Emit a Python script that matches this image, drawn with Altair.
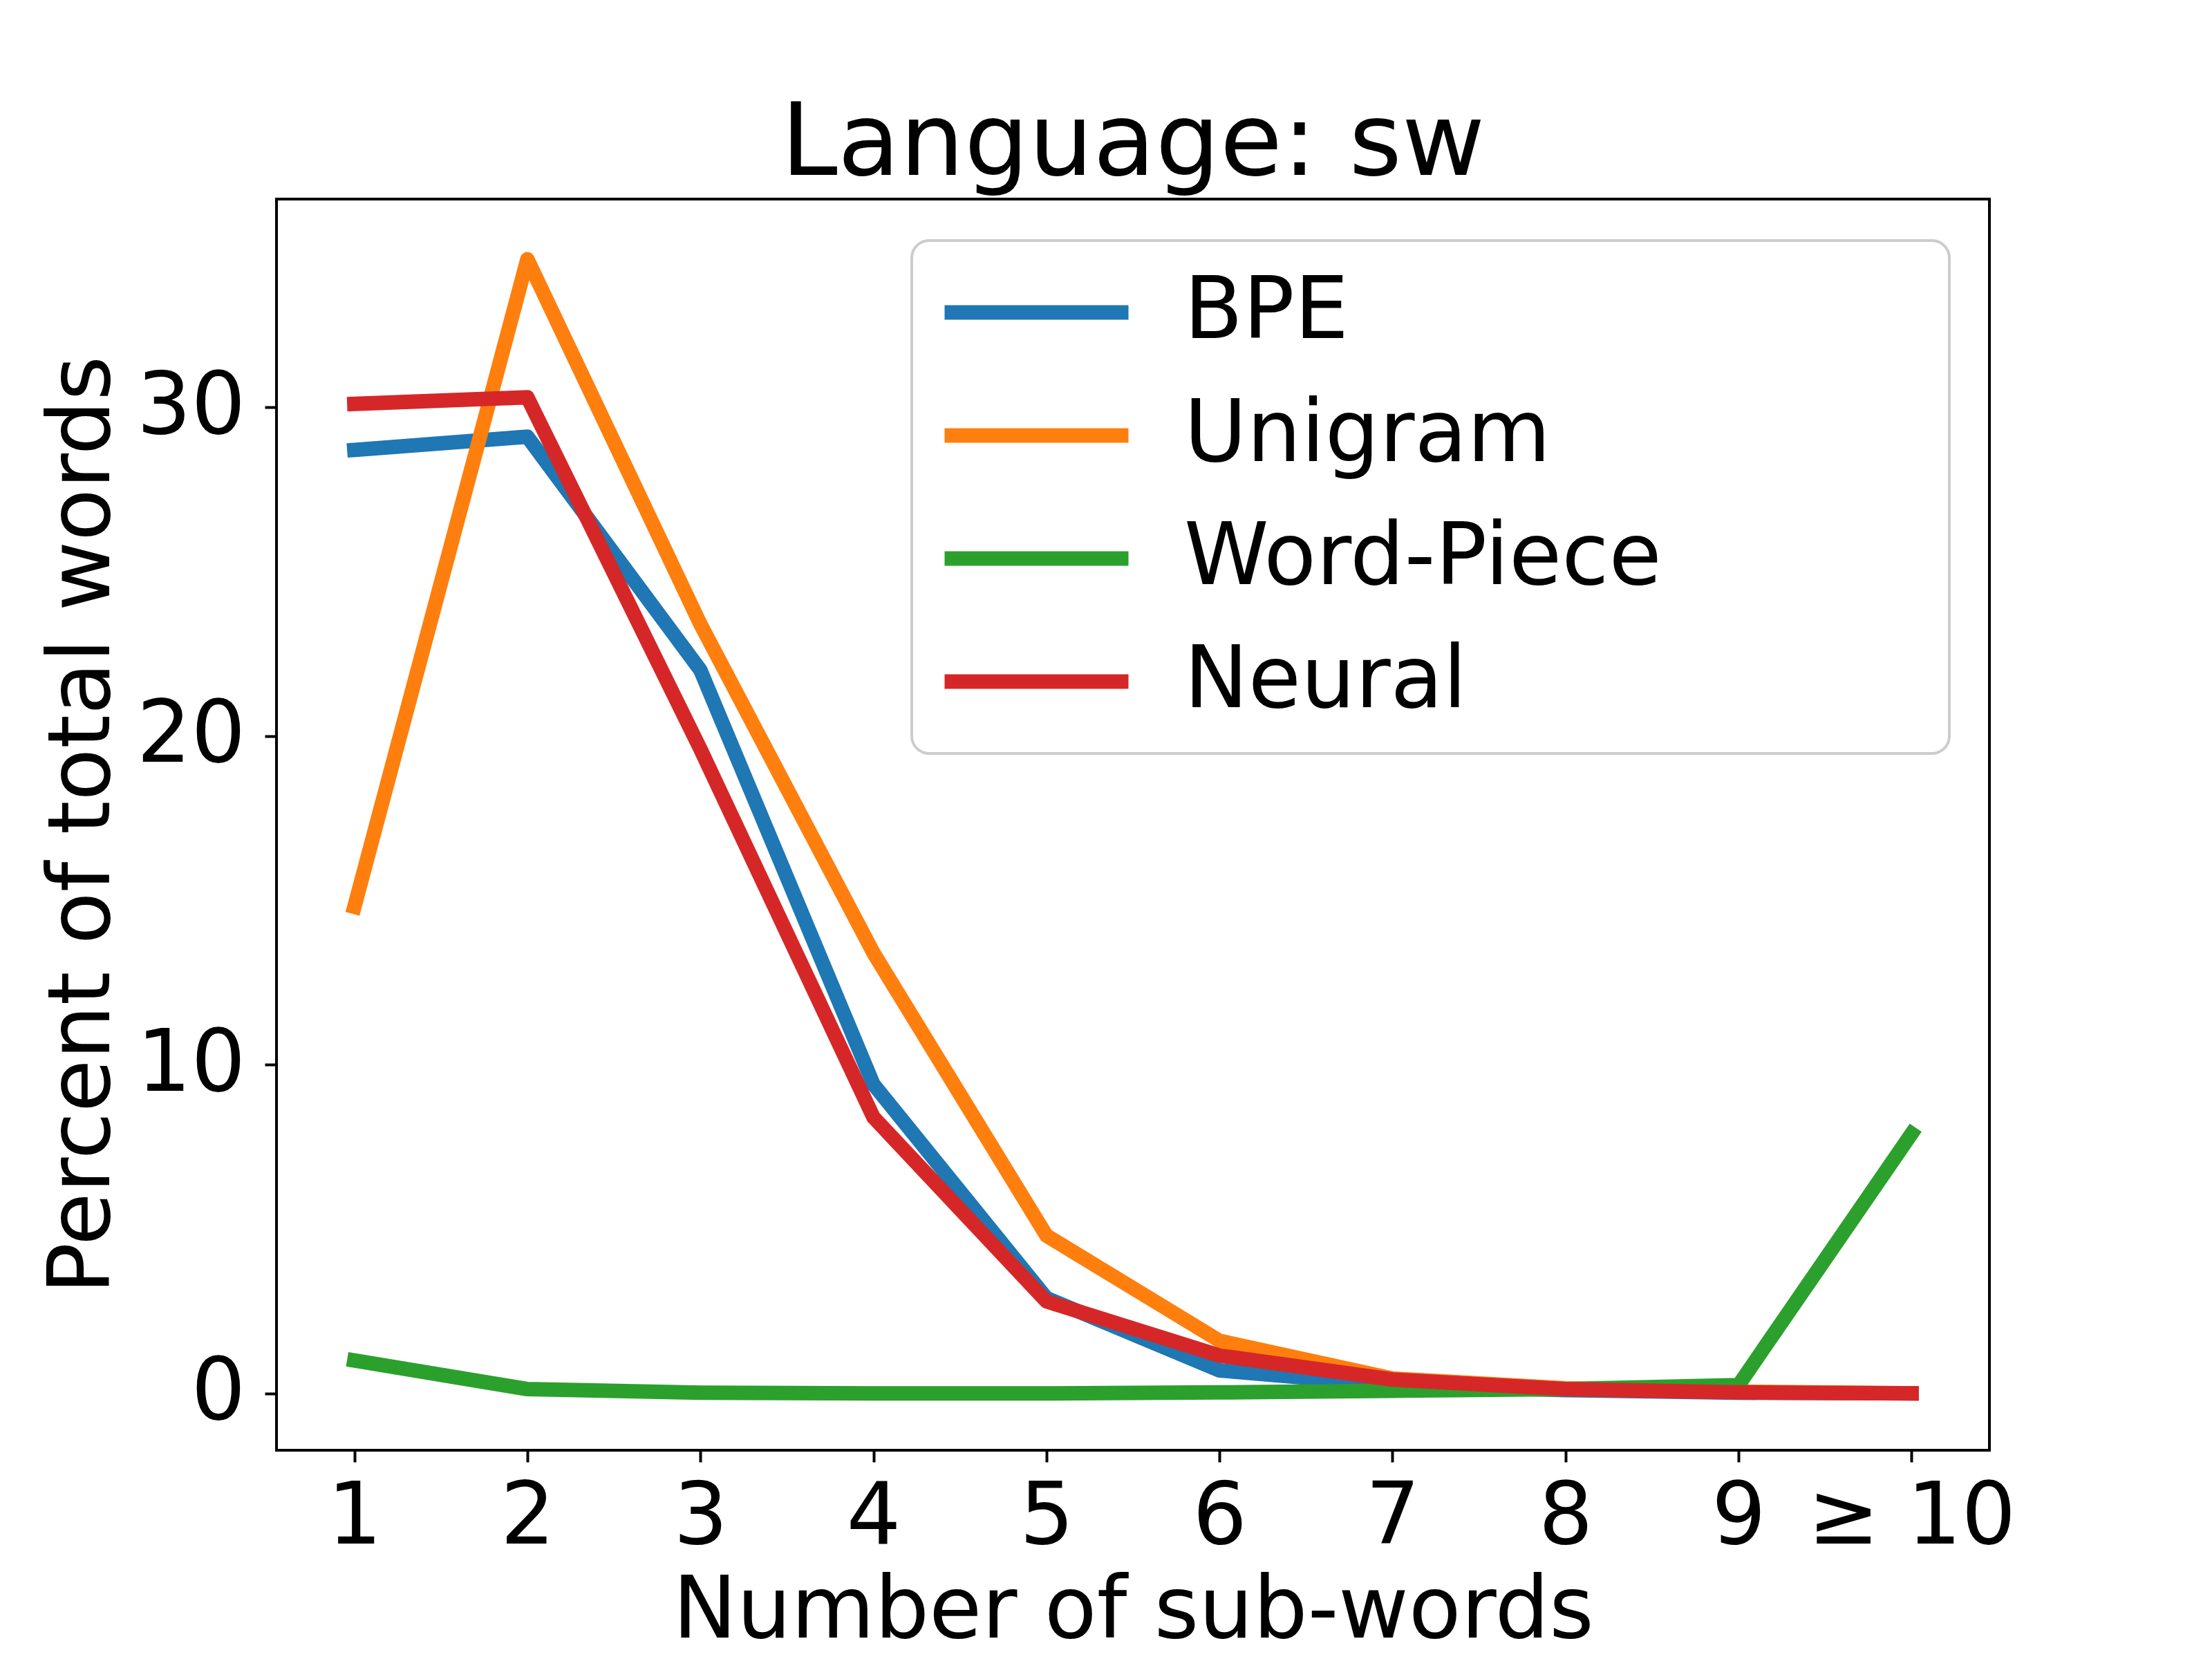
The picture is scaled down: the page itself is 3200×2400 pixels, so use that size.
import altair as alt
import pandas as pd

# ---- data ----
x_labels = ["1", "2", "3", "4", "5", "6", "7", "8", "9", "≥ 10"]
series_names = ["BPE", "Unigram", "Word-Piece", "Neural"]
series_colors = ["#1f77b4", "#ff7f0e", "#2ca02c", "#d62728"]
bpe = [28.7, 29.1, 22.0, 9.4, 2.9, 0.7, 0.25, 0.1, 0.02, 0.0]
unigram = [14.8, 34.5, 23.4, 13.4, 4.8, 1.6, 0.45, 0.15, 0.05, 0.0]
wordpiece = [1.0, 0.13, 0.02, 0.0, 0.0, 0.03, 0.08, 0.13, 0.25, 7.9]
neural = [30.1, 30.3, 19.6, 8.4, 2.8, 1.15, 0.42, 0.13, 0.03, 0.0]
series_values = [bpe, unigram, wordpiece, neural]
y_ticks = [0, 10, 20, 30]
y_domain = [-1.73, 36.33]

rows = []
for name, vals in zip(series_names, series_values):
    for lab, v in zip(x_labels, vals):
        rows.append({"n": lab, "pct": v, "method": name})
df = pd.DataFrame(rows)

FONT = "DejaVu Sans"

chart = (
    alt.Chart(df)
    .mark_line(strokeWidth=21, strokeCap="square", strokeJoin="round")
    .encode(
        x=alt.X(
            "n:O",
            sort=x_labels,
            scale=alt.Scale(type="point", padding=0.45),
            axis=alt.Axis(
                title="Number of sub-words",
                labelAngle=0,
                labelPadding=19,
                labelFlush=False,
                labelOverlap=False,
                titleX=1239,
                titleY=270,
                titleAlign="center",
                titleBaseline="alphabetic",
            ),
        ),
        y=alt.Y(
            "pct:Q",
            scale=alt.Scale(domain=y_domain, nice=False, zero=False),
            axis=alt.Axis(
                title="Percent of total words",
                values=y_ticks,
                labelPadding=28,
                labelFlush=False,
                titleX=-243,
                titleY=905,
                titleAngle=270,
                titleAlign="center",
                titleBaseline="alphabetic",
            ),
        ),
        color=alt.Color(
            "method:N",
            sort=series_names,
            scale=alt.Scale(domain=series_names, range=series_colors),
            legend=alt.Legend(
                title=" ",
                titleOrient="right",
                titleFontSize=124,
                titlePadding=379,
                orient="none",
                legendX=919,
                legendY=60,
                symbolType="stroke",
                symbolSize=70756,
                symbolStrokeWidth=21,
                labelFont=FONT,
                labelFontSize=124,
                labelColor="black",
                labelLimit=0,
                labelOffset=70,
                clipHeight=134,
                rowPadding=44,
                padding=37,
                cornerRadius=25,
                strokeColor="#cccccc",
                fillColor="white",
            ),
        ),
    )
    .properties(
        width=2478,
        height=1810,
        autosize=alt.AutoSizeParams(type="none"),
        padding={"left": 392, "top": 280, "right": 314, "bottom": 294},
        title=alt.Title(
            "Language: sw",
            font=FONT,
            fontSize=147,
            fontWeight="normal",
            color="black",
            anchor="middle",
            baseline="alphabetic",
            offset=-112,
        ),
    )
    .configure_view(stroke="black", strokeWidth=4)
    .configure_axis(
        domain=False,
        grid=False,
        ticks=True,
        tickColor="black",
        tickWidth=4,
        tickSize=17,
        labelFont=FONT,
        labelFontSize=124,
        labelColor="black",
        labelLimit=0,
        titleFont=FONT,
        titleFontSize=124,
        titleFontWeight="normal",
        titleColor="black",
    )
    .configure_legend(strokeWidth=4)
)

chart.save("out.html", embed_options={"renderer": "svg", "actions": False})
